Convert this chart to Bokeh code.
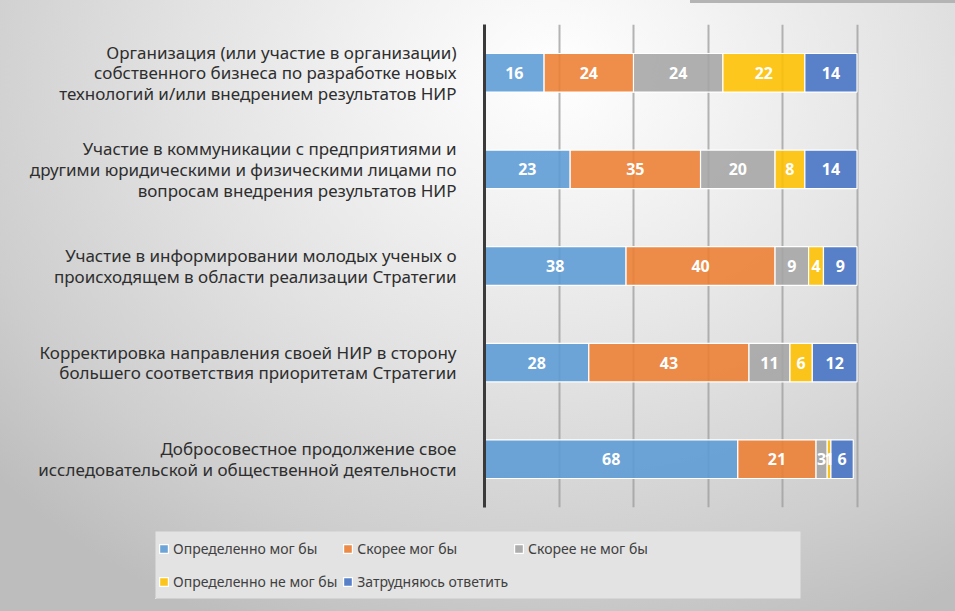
import numpy as np
from bokeh.plotting import figure
from bokeh.layouts import column, row
from bokeh.models import (ColumnDataSource, FactorRange, Range1d, Legend, LegendItem,
                          FixedTicker, InlineStyleSheet)
from bokeh.core.properties import value
from bokeh.embed import file_html
from bokeh.resources import INLINE

# ---------------- data ----------------
categories = [
    "Организация (или участие в организации)\nсобственного бизнеса по разработке новых\nтехнологий и/или внедрением результатов НИР",
    "Участие в коммуникации с предприятиями и\nдругими юридическими и физическими лицами по\nвопросам внедрения результатов НИР",
    "Участие в информировании молодых ученых о\nпроисходящем в области реализации Стратегии",
    "Корректировка направления своей НИР в сторону\nбольшего соответствия приоритетам Стратегии",
    "Добросовестное продолжение свое\nисследовательской и общественной деятельности",
]
series_names = ["Определенно мог бы", "Скорее мог бы", "Скорее не мог бы",
                "Определенно не мог бы", "Затрудняюсь ответить"]
definitely_could = [16, 23, 38, 28, 68]
rather_could = [24, 35, 40, 43, 21]
rather_not = [24, 20, 9, 11, 3]
definitely_not = [22, 8, 4, 6, 1]
hard_to_say = [14, 14, 9, 12, 6]
x_ticks = [0, 20, 40, 60, 80, 100, 120]

colors = ["#5B9BD5", "#ED7D31", "#A5A5A5", "#FFC000", "#4472C4"]
keys = ["s0", "s1", "s2", "s3", "s4"]
all_series = [definitely_could, rather_could, rather_not, definitely_not, hard_to_say]

data = {"cat": categories}
for k, s in zip(keys, all_series):
    data[k] = s
source = ColumnDataSource(data)

bg_css = InlineStyleSheet(css=""":host {
  background:
    linear-gradient(#b4b4b4, #b4b4b4) 690px 0 / 265px 3px no-repeat,
    radial-gradient(ellipse 78% 100% at 58% 12%, #ffffff 0%, #f3f3f3 22%, #e2e2e2 50%, #cecece 80%, #bdbdbd 100%);
}""")

p = figure(width=955, height=531,
           y_range=FactorRange(factors=list(reversed(categories))),
           x_range=Range1d(0, 120),
           output_backend="svg", toolbar_location=None,
           min_border_left=484, min_border_right=24,
           min_border_top=24, min_border_bottom=24)
p.background_fill_alpha = 0
p.border_fill_alpha = 0
p.outline_line_color = None

renderers = p.hbar_stack(keys, y="cat", height=0.4, color=colors, source=source,
                         line_color="white", line_width=1.2, fill_alpha=0.88)

# value labels
arr = np.array(all_series, dtype=float)
cum = np.cumsum(arr, axis=0)
for i in range(len(keys)):
    mids = cum[i] - arr[i] / 2.0
    lab_src = ColumnDataSource(dict(x=mids, y=categories, t=[str(v) for v in all_series[i]]))
    p.text(x="x", y="y", text="t", source=lab_src, text_color="white",
           text_font=value("Noto Sans"), text_font_style="bold", text_font_size="16px",
           text_align="center", text_baseline="middle")

# axes & grid
p.xaxis.visible = False
p.xgrid.ticker = FixedTicker(ticks=x_ticks)
p.xgrid.grid_line_color = "#9c9c9c"
p.xgrid.grid_line_width = 2
p.xgrid.grid_line_alpha = 0.75
p.ygrid.visible = False

yax = p.yaxis[0]
yax.axis_line_color = "#3a3a3a"
yax.axis_line_width = 3
yax.major_tick_line_color = None
yax.minor_tick_line_color = None
yax.major_label_standoff = 22
yax.major_label_text_font = "Noto Sans"
yax.major_label_text_font_size = "17px"
yax.major_label_text_color = "#2e2e2e"
yax.major_label_text_line_height = 0.9

# ---------------- legend panel ----------------
pl = figure(width=955, height=80, output_backend="svg", toolbar_location=None,
            x_axis_type=None, y_axis_type=None,
            x_range=Range1d(1, 2), y_range=Range1d(1, 2),
            min_border_left=155, min_border_right=155,
            min_border_top=0, min_border_bottom=13)
pl.background_fill_color = "#e3e3e3"
pl.background_fill_alpha = 1
pl.border_fill_alpha = 0
pl.outline_line_color = None
pl.grid.visible = False

swatch_src = ColumnDataSource(dict(y=[0], left=[0], right=[0]))
dummies = []
for c in colors:
    dummies.append(pl.hbar(y="y", left="left", right="right", height=0, source=swatch_src,
                           fill_color=c, fill_alpha=0.88, line_color="white", line_width=1.2))

legend = Legend(items=[LegendItem(label=n, renderers=[r]) for n, r in zip(series_names, dummies)],
                location="top_left", orientation="horizontal", ncols=3)
legend.background_fill_alpha = 0
legend.border_line_color = None
legend.label_text_font = "Noto Sans"
legend.label_text_font_size = "14px"
legend.label_text_color = "#404040"
legend.glyph_width = 11
legend.glyph_height = 11
legend.label_standoff = 4
legend.label_width = 140
legend.label_height = 28
legend.spacing = 5
legend.padding = 2
legend.margin = 3
pl.add_layout(legend, "center")

layout = column(p, row(pl), spacing=0, stylesheets=[bg_css])

open("out.html", "w").write(file_html(layout, INLINE))
